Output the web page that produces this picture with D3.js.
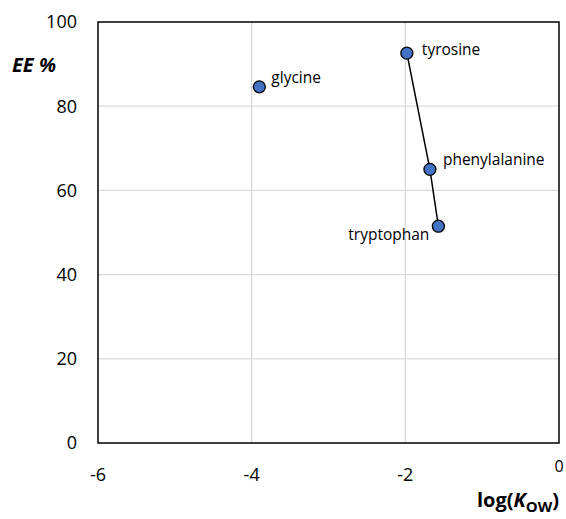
<!DOCTYPE html>
<html>
<head>
<meta charset="utf-8">
<script src="https://cdn.jsdelivr.net/npm/d3@7"></script>
<style>
	body { margin: 0; background: #fff; }
	svg text { font-family: "Open Sans", "Liberation Sans", sans-serif; fill: #000; }
	.grid line { stroke: #d9d9d9; stroke-width: 1.3; }
	.tick-label { font-size: 18px; }
	.pt-label { font-size: 15.5px; }
</style>
</head>
<body>
<div id="chart"></div>
<script>
// amino acids
var names = ["glycine", "tyrosine", "phenylalanine", "tryptophan"];
var logKow = [-3.9, -1.98, -1.68, -1.57];
var eePct = [84.6, 92.6, 65.0, 51.5];
// the three aromatic ones are joined by a line
var linked = ["tyrosine", "phenylalanine", "tryptophan"];
var xTicks = [-6, -4, -2, 0];
var yTicks = [0, 20, 40, 60, 80, 100];

var W = 566, H = 519;
var margin = {top: 22, right: 7, bottom: 76, left: 98};
var width = W - margin.left - margin.right;
var height = H - margin.top - margin.bottom;

var svg = d3.select("#chart").append("svg")
	.attr("width", W)
	.attr("height", H);

var g = svg.append("g")
	.attr("transform", "translate(" + margin.left + "," + margin.top + ")");

var x = d3.scaleLinear().domain([-6, 0]).range([0, width]);
var y = d3.scaleLinear().domain([0, 100]).range([height, 0]);

// gridlines
var grid = g.append("g").attr("class", "grid");
grid.selectAll(".gx")
	.data(xTicks.filter(function(t){ return t > -6 && t < 0; }))
	.enter().append("line")
	.attr("x1", function(d){ return x(d); })
	.attr("x2", function(d){ return x(d); })
	.attr("y1", 0).attr("y2", height);
grid.selectAll(".gy")
	.data(yTicks.filter(function(t){ return t > 0 && t < 100; }))
	.enter().append("line")
	.attr("y1", function(d){ return y(d); })
	.attr("y2", function(d){ return y(d); })
	.attr("x1", 0).attr("x2", width);

// frame
g.append("rect")
	.attr("width", width)
	.attr("height", height)
	.attr("fill", "none")
	.attr("stroke", "#000")
	.attr("stroke-width", 1.5);

// tick labels
g.selectAll(".ylab")
	.data(yTicks)
	.enter().append("text")
	.attr("class", "tick-label")
	.attr("x", -21)
	.attr("y", function(d){ return y(d); })
	.attr("dy", "0.35em")
	.attr("text-anchor", "end")
	.text(function(d){ return d; });

g.selectAll(".xlab")
	.data(xTicks)
	.enter().append("text")
	.attr("class", "tick-label")
	.attr("x", function(d){ return x(d); })
	.attr("y", function(d){ return d === 0 ? height + 29 : height + 38; })
	.attr("text-anchor", "middle")
	.style("font-size", function(d){ return d === 0 ? "16px" : null; })
	.text(function(d){ return d; });

// axis titles
g.append("text")
	.attr("x", -86)
	.attr("y", 50)
	.style("font-size", "20px")
	.style("font-weight", "bold")
	.style("font-style", "italic")
	.text("EE %");

var xt = g.append("text")
	.attr("x", width)
	.attr("y", height + 64)
	.attr("text-anchor", "end")
	.style("font-size", "20px")
	.style("font-weight", "bold");
xt.append("tspan").text("log(");
xt.append("tspan").style("font-style", "italic").text("K");
xt.append("tspan").attr("dy", 5).style("font-size", "15px").text("OW");
xt.append("tspan").attr("dy", -5).text(")");

// data
var data = names.map(function(n, i){ return {name: n, x: logKow[i], y: eePct[i]}; });
var lineData = data.filter(function(d){ return linked.indexOf(d.name) >= 0; });

g.append("path")
	.datum(lineData)
	.attr("fill", "none")
	.attr("stroke", "#000")
	.attr("stroke-width", 1.5)
	.attr("d", d3.line()
		.x(function(d){ return x(d.x); })
		.y(function(d){ return y(d.y); }));

g.selectAll(".pt")
	.data(data)
	.enter().append("circle")
	.attr("cx", function(d){ return x(d.x); })
	.attr("cy", function(d){ return y(d.y); })
	.attr("r", 6)
	.attr("fill", "#4472c4")
	.attr("stroke", "#000")
	.attr("stroke-width", 1.3);

// point labels: offsets relative to marker
var labelPos = {
	glycine: {dx: 12, dy: -4, anchor: "start"},
	tyrosine: {dx: 15, dy: 2, anchor: "start"},
	phenylalanine: {dx: 13, dy: -4, anchor: "start"},
	tryptophan: {dx: -9, dy: 14, anchor: "end"}
};
g.selectAll(".pl")
	.data(data)
	.enter().append("text")
	.attr("class", "pt-label")
	.attr("x", function(d){ return x(d.x) + labelPos[d.name].dx; })
	.attr("y", function(d){ return y(d.y) + labelPos[d.name].dy; })
	.attr("text-anchor", function(d){ return labelPos[d.name].anchor; })
	.text(function(d){ return d.name; });
</script>
</body>
</html>
